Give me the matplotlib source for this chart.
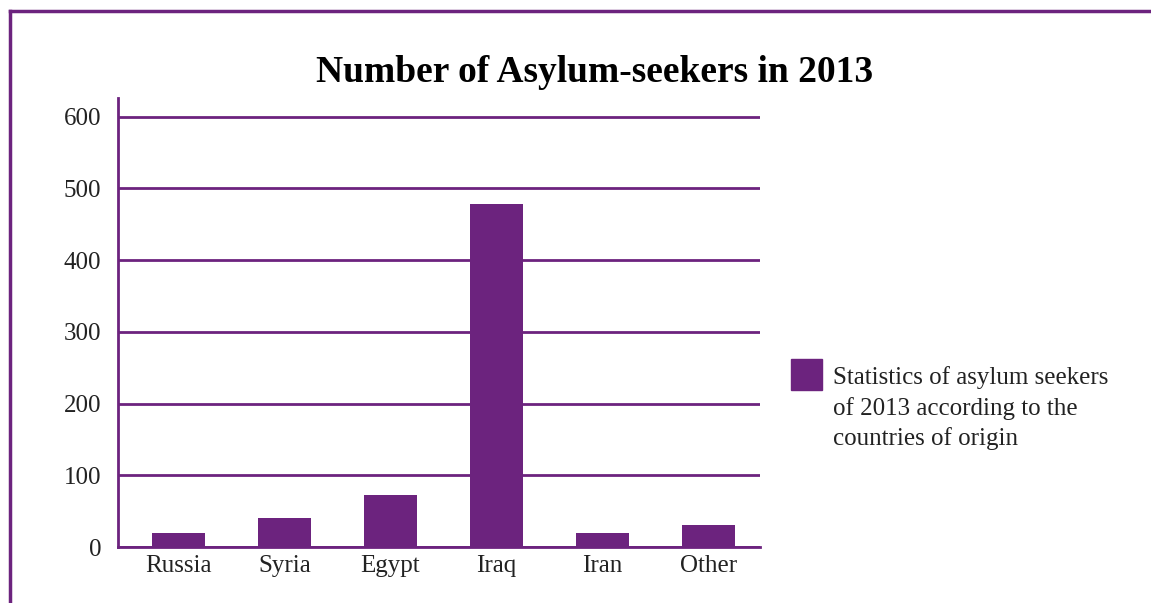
import matplotlib
matplotlib.use('Agg')
import matplotlib.pyplot as plt
from matplotlib.lines import Line2D
import matplotlib.patches as mpatches

countries = ['Russia', 'Syria', 'Egypt', 'Iraq', 'Iran', 'Other']
seekers = [20, 40, 73, 478, 20, 30]
yticks = [0, 100, 200, 300, 400, 500, 600]
legend_label = 'Statistics of asylum seekers\nof 2013 according to the\ncountries of origin'

PURPLE = '#6C237E'
plt.rcParams['font.family'] = ['Liberation Serif', 'DejaVu Serif']

W, H = 1151, 603
fig = plt.figure(figsize=(W / 100, H / 100), dpi=100, facecolor='white')
ax = fig.add_axes([118 / W, 1 - 547 / H, 642 / W, 449 / H])

ax.bar(range(len(countries)), seekers, width=0.5, color=PURPLE, zorder=3)
ax.set_xlim(-0.57, len(countries) - 0.51)
ax.set_ylim(0, 626)
ax.set_yticks(yticks)
ax.set_xticks(range(len(countries)))
ax.set_xticklabels(countries)
ax.tick_params(axis='both', length=0, labelsize=18, colors='#222222')
ax.tick_params(axis='y', pad=12)
ax.tick_params(axis='x', pad=6)
ax.yaxis.grid(True, color=PURPLE, linewidth=2)
ax.set_axisbelow(True)
for s in ['top', 'right']:
    ax.spines[s].set_visible(False)
for s in ['left', 'bottom']:
    ax.spines[s].set_color(PURPLE)
    ax.spines[s].set_linewidth(2)

fig.text(595 / W, 1 - 72 / H, 'Number of Asylum-seekers in 2013',
         ha='center', va='center', fontsize=27, fontweight='bold', color='black')

# legend: square + three-line label
fig.add_artist(mpatches.Rectangle((791 / W, 1 - 390 / H), 31 / W, 31 / H,
                                  transform=fig.transFigure, color=PURPLE))
fig.text(833 / W, 1 - 366 / H, legend_label, ha='left', va='top',
         fontsize=18, color='#222222', linespacing=1.42)

# outer frame, top and left only
fig.add_artist(Line2D([10 / W, 1], [1 - 11 / H, 1 - 11 / H],
                      transform=fig.transFigure, color=PURPLE, linewidth=2.5))
fig.add_artist(Line2D([10 / W, 10 / W], [0, 1 - 11 / H],
                      transform=fig.transFigure, color=PURPLE, linewidth=2.5))

plt.savefig('out.png', dpi=100, facecolor='white')
